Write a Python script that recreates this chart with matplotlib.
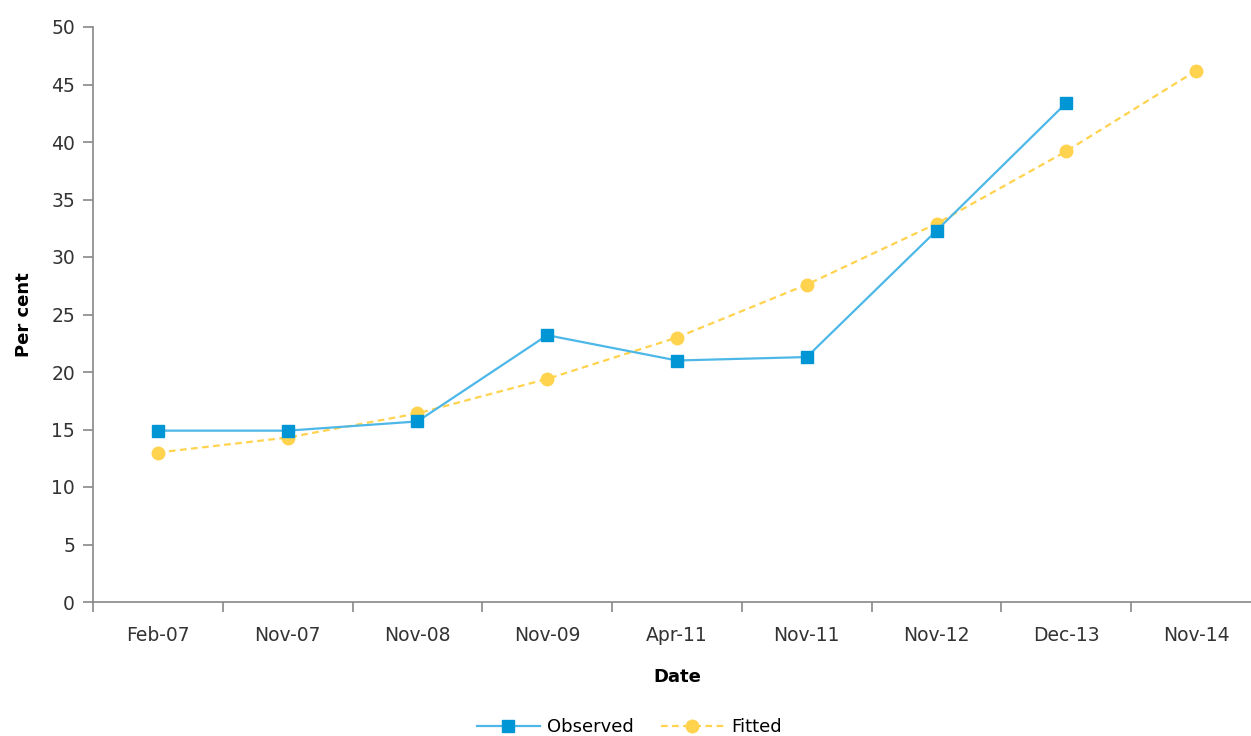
import matplotlib
matplotlib.use("Agg")
import matplotlib.pyplot as plt
import numpy as np

categories = ["Feb-07", "Nov-07", "Nov-08", "Nov-09", "Apr-11", "Nov-11", "Nov-12", "Dec-13", "Nov-14"]
observed = [14.9, 14.9, 15.7, 23.2, 21.0, 21.3, 32.3, 43.4, np.nan]
fitted = [13.0, 14.3, 16.4, 19.4, 23.0, 27.6, 32.9, 39.2, 46.2]

plt.rcParams['font.family'] = ['DejaVu Sans']
fig = plt.figure(figsize=(12.51, 7.36), dpi=100)
W, H = 1251, 736
left, right, top, bottom = 93, 1261, 27, 602
ax = fig.add_axes([left / W, 1 - bottom / H, (right - left) / W, (bottom - top) / H])

x = np.arange(len(categories))
ax.plot(x, observed, color='#4DB8E8', lw=1.6, marker='s', markersize=8,
        markerfacecolor='#0096D6', markeredgecolor='#0096D6', label='Observed', zorder=3)
ax.plot(x, fitted, color='#FFD34E', lw=1.6, ls=(0, (3, 2)), marker='o', markersize=9,
        markerfacecolor='#FFD34E', markeredgecolor='#FFD34E', label='Fitted', zorder=2)

ax.set_xlim(-0.5, len(categories) - 0.5)
ax.set_ylim(0, 50)
ax.set_yticks(np.arange(0, 51, 5))
ax.set_xticks(x)
ax.set_xticklabels(categories)
ax.set_xticks(np.arange(-0.5, len(categories), 1), minor=True)
ax.tick_params(axis='x', which='major', length=0, pad=17, labelsize=13.5, labelcolor='#333333')
ax.tick_params(axis='x', which='minor', length=7, color='#888888', width=1.2)
ax.tick_params(axis='y', length=7, color='#888888', width=1.2, labelsize=13.5, labelcolor='#333333', pad=6)

for s in ['top', 'right']:
    ax.spines[s].set_visible(False)
for s in ['left', 'bottom']:
    ax.spines[s].set_color('#888888')
    ax.spines[s].set_linewidth(1.2)

ax.set_ylabel('Per cent', fontsize=13, fontweight='bold', labelpad=13)
ax.set_xlabel('Date', fontsize=13, fontweight='bold', labelpad=17)

fig.legend(loc='lower center', bbox_to_anchor=(0.503, -0.022), ncol=2, frameon=False,
           fontsize=13, handlelength=3.5, columnspacing=1.5, handletextpad=0.4)

fig.savefig('out.png', dpi=100)
